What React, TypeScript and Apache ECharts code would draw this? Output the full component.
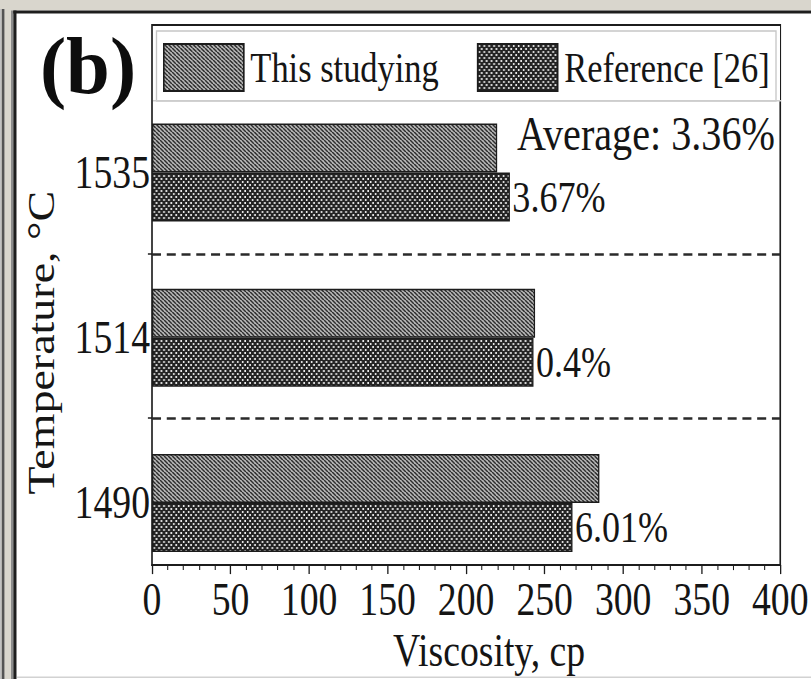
import React, { useEffect, useRef } from 'react';
import * as echarts from 'echarts';

// Viscosity (cp) at each temperature, bottom to top
const temperatures = ['1490', '1514', '1535'];
const thisStudying = [284.5, 243.6, 219.5];
const reference26 = [267.4, 242.6, 227.6];
// Relative deviation between the two data sets, %
const deviations = [6.01, 0.4, 3.67];
const seriesNames = ['This studying', 'Reference [26]'];
// Viscosity axis
const viscosityMin = 0;
const viscosityMax = 400;
const viscosityStep = 50;
// Dashed lines between temperature groups (in group units, 1 = first group)
const groupSeparators = [1.5, 2.5];

// The figure uses a horizontally condensed serif face: draw wide, squeeze the whole chart.
const SX = 0.82;
const PAGE_W = 811;
const PAGE_H = 679;
const W = PAGE_W / SX;
const px = (x: number) => x / SX;
const FONT = '"Liberation Serif", "Times New Roman", serif';
const FS = 46;
const INK = '#151515';

function hatchTile() {
  const c = document.createElement('canvas');
  c.width = 5;
  c.height = 4;
  const g = c.getContext('2d')!;
  g.fillStyle = '#c0c0c0';
  g.fillRect(0, 0, 5, 4);
  g.strokeStyle = '#2a2a2a';
  g.lineWidth = 1.7;
  for (const o of [-5, 0, 5]) {
    g.beginPath();
    g.moveTo(o, 0);
    g.lineTo(o + 5, 4);
    g.stroke();
  }
  return { image: c, repeat: 'repeat', imageWidth: 5, imageHeight: 4 };
}

function dotTile() {
  const c = document.createElement('canvas');
  c.width = 6;
  c.height = 6;
  const g = c.getContext('2d')!;
  g.fillStyle = '#242424';
  g.fillRect(0, 0, 6, 6);
  g.fillStyle = '#eeeeee';
  g.fillRect(1, 1, 2, 2);
  g.fillRect(4, 4, 2, 2);
  return { image: c, repeat: 'repeat', imageWidth: 6, imageHeight: 6 };
}

export default function App() {
  const ref = useRef<HTMLDivElement>(null);

  useEffect(() => {
    const el = ref.current;
    if (!el) return;
    const chart = echarts.init(el, undefined, { renderer: 'svg', width: W, height: PAGE_H });

    const avg = deviations.reduce((a, b) => a + b, 0) / deviations.length;

    const frameTop = 25;
    const frameBottom = 568;
    const plotLeft = 152;
    const plotRight = 781;
    const barTop = 89.9;
    const barBottom = 585.6;

    const option: any = {
      animation: false,
      backgroundColor: '#ffffff',
      textStyle: { fontFamily: FONT, color: INK },
      grid: [
        {
          left: px(plotLeft),
          right: px(PAGE_W - plotRight),
          top: frameTop,
          bottom: PAGE_H - frameBottom,
          show: true,
          borderColor: '#1c1c1c',
          borderWidth: 2,
          backgroundColor: 'transparent',
        },
        {
          left: px(plotLeft),
          right: px(PAGE_W - plotRight),
          top: barTop,
          bottom: PAGE_H - barBottom,
        },
      ],
      xAxis: [
        {
          gridIndex: 0,
          type: 'value',
          min: viscosityMin,
          max: viscosityMax,
          interval: viscosityStep,
          name: 'Viscosity, cp',
          nameLocation: 'middle',
          nameGap: 28,
          nameTextStyle: {
            fontSize: FS,
            color: INK,
            fontFamily: FONT,
            padding: [0, 0, 0, px(46)],
          },
          axisLine: { show: true, lineStyle: { color: '#1c1c1c', width: 2 } },
          axisTick: { show: true, length: 9, lineStyle: { color: '#1c1c1c', width: 1.6 } },
          minorTick: { show: true, splitNumber: 5, length: 5, lineStyle: { color: '#1c1c1c', width: 1.3 } },
          axisLabel: { fontSize: FS, color: INK, fontFamily: FONT, margin: 12 },
          splitLine: { show: false },
        },
        {
          gridIndex: 1,
          type: 'value',
          min: viscosityMin,
          max: viscosityMax,
          show: false,
        },
      ],
      yAxis: [
        {
          gridIndex: 0,
          type: 'value',
          min: 0.6,
          max: 3.9,
          axisLine: { show: false },
          axisLabel: { show: false },
          splitLine: { show: false },
          axisTick: {
            show: true,
            customValues: groupSeparators,
            length: 5,
            lineStyle: { color: '#1c1c1c', width: 1.5 },
          },
        },
        {
          gridIndex: 1,
          type: 'category',
          data: temperatures,
          axisLine: { show: false },
          axisTick: { show: false },
          splitLine: { show: false },
          axisLabel: { fontSize: FS, color: INK, fontFamily: FONT, margin: px(2) },
          name: 'Temperature, °C',
          nameLocation: 'middle',
          nameRotate: 90,
          nameGap: px(92),
          nameTextStyle: { fontSize: FS, color: INK, fontFamily: FONT, padding: [0, 10, 0, 0] },
        },
      ],
      legend: {
        show: true,
        data: seriesNames,
        left: px(163),
        top: 43,
        padding: 0,
        itemWidth: px(80),
        itemHeight: 47,
        itemGap: px(38),
        icon: 'rect',
        selectedMode: false,
        textStyle: { fontSize: 42, color: INK, fontFamily: FONT, padding: [0, 0, 0, 3] },
        z: 20,
      },
      series: [
        {
          name: seriesNames[0],
          type: 'bar',
          xAxisIndex: 1,
          yAxisIndex: 1,
          data: thisStudying,
          barWidth: 49,
          barGap: '0%',
          itemStyle: { color: hatchTile(), borderColor: '#1c1c1c', borderWidth: 1.6 },
        },
        {
          name: seriesNames[1],
          type: 'bar',
          xAxisIndex: 1,
          yAxisIndex: 1,
          data: reference26,
          barWidth: 49,
          barGap: '0%',
          itemStyle: { color: dotTile(), borderColor: '#1c1c1c', borderWidth: 1.6 },
          label: {
            show: true,
            position: 'right',
            distance: 3,
            fontSize: 44,
            color: INK,
            fontFamily: FONT,
            formatter: (p: any) => `${deviations[p.dataIndex]}%`,
          },
        },
        {
          name: 'separators',
          type: 'line',
          xAxisIndex: 0,
          yAxisIndex: 0,
          data: [],
          markLine: {
            silent: true,
            symbol: 'none',
            label: { show: false },
            lineStyle: { type: [11, 7], color: '#2a2a2a', width: 2.5 },
            data: groupSeparators.map((v) => ({ yAxis: v })),
          },
        },
      ],
      graphic: [
        // window chrome around the figure
        { type: 'rect', shape: { x: 0, y: 0, width: W, height: 10.5 }, style: { fill: '#d9d6cd' }, z: 30 },
        { type: 'rect', shape: { x: 0, y: 0, width: px(13.5), height: PAGE_H }, style: { fill: '#d9d6cd' }, z: 30 },
        { type: 'rect', shape: { x: 0, y: 9, width: px(1.5), height: PAGE_H }, style: { fill: '#c2c2c2' }, z: 31 },
        { type: 'rect', shape: { x: px(1.8), y: 9, width: px(2.6), height: PAGE_H }, style: { fill: '#545454' }, z: 31 },
        { type: 'rect', shape: { x: px(11), y: 10.5, width: px(2), height: PAGE_H }, style: { fill: '#8c8c8c' }, z: 31 },
        { type: 'rect', shape: { x: px(13.3), y: 10.5, width: px(3.2), height: PAGE_H }, style: { fill: '#1e1e1e' }, z: 31 },
        { type: 'rect', shape: { x: px(13.3), y: 10.5, width: W, height: 3 }, style: { fill: '#1e1e1e' }, z: 31 },
        { type: 'rect', shape: { x: px(17), y: 676.5, width: W, height: 1.5 }, style: { fill: '#d2d2d2' }, z: 31 },
        // legend box
        {
          type: 'rect',
          shape: { x: px(153.5), y: 26, width: px(781 - 153.5 - 1), height: 74.5 },
          style: { fill: '#ffffff' },
          z: 10,
        },
        {
          type: 'rect',
          shape: { x: px(156.5), y: 31, width: px(776 - 156.5), height: 70 },
          style: { fill: 'none', stroke: '#c6c6c6', lineWidth: 1.6 },
          z: 11,
        },
        {
          type: 'rect',
          shape: { x: px(153), y: 100, width: px(781 - 153), height: 1.4 },
          style: { fill: '#cdcdcd' },
          z: 11,
        },
        // panel tag
        {
          type: 'text',
          x: px(88),
          y: 66,
          scaleX: 1.2,
          style: {
            text: '(b)',
            fontSize: 80,
            fontWeight: 'bold',
            fontFamily: FONT,
            fill: '#0d0d0d',
            align: 'center',
            verticalAlign: 'middle',
          },
          z: 32,
        },
        {
          type: 'text',
          x: px(775),
          y: 134,
          style: {
            text: `Average: ${avg.toFixed(2)}%`,
            fontSize: 49,
            fontFamily: FONT,
            fill: INK,
            align: 'right',
            verticalAlign: 'middle',
          },
          z: 12,
        },
      ],
    };

    chart.setOption(option);
    return () => chart.dispose();
  }, []);

  return (
    <div
      style={{
        position: 'fixed',
        left: 0,
        top: 0,
        width: PAGE_W,
        height: PAGE_H,
        overflow: 'hidden',
        background: '#ffffff',
      }}
    >
      <div
        ref={ref}
        style={{ width: W, height: PAGE_H, transform: `scaleX(${SX})`, transformOrigin: '0 0' }}
      />
    </div>
  );
}
